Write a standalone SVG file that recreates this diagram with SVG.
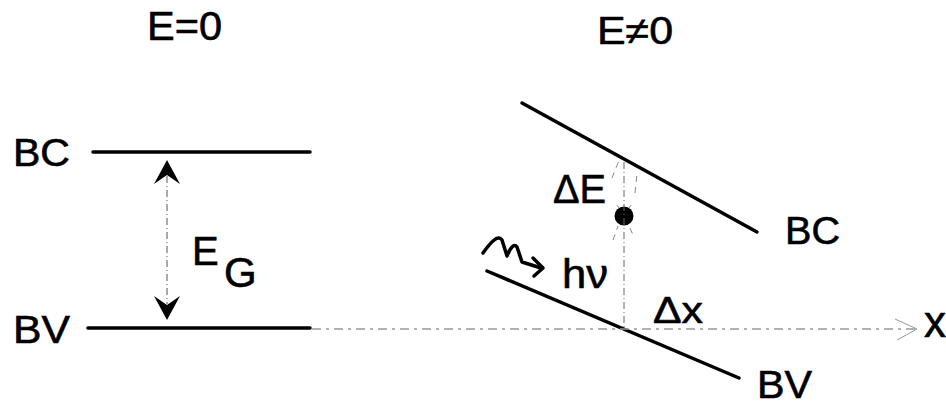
<svg xmlns="http://www.w3.org/2000/svg" width="946" height="405" viewBox="0 0 946 405">
<style>
text{font-family:"Liberation Sans",Arial,sans-serif;fill:#000;stroke:#000;stroke-width:0.6}
.band{stroke:#000;stroke-width:3.5;stroke-linecap:round;fill:none}
.faint{stroke:#888;stroke-width:1;fill:none;stroke-dasharray:6 5}
.lab{font-size:38px}
</style>
<rect width="946" height="405" fill="#fff"/>
<g id="title-left"><text x="147" y="40" font-size="40" textLength="75" lengthAdjust="spacingAndGlyphs">E=0</text></g>
<g id="title-right"><text x="597" y="44" font-size="38" textLength="76" lengthAdjust="spacingAndGlyphs">E≠0</text></g>
<g id="bc-left">
<line class="band" x1="93" y1="152" x2="310" y2="152"/>
<text class="lab" x="13" y="166" textLength="57" lengthAdjust="spacingAndGlyphs">BC</text>
</g>
<g id="bv-left">
<line class="band" x1="88" y1="328" x2="310" y2="328"/>
<text class="lab" x="13" y="343" textLength="57" lengthAdjust="spacingAndGlyphs">BV</text>
</g>
<g id="eg">
<text x="192" y="265" font-size="40">E</text>
<text x="224" y="287" font-size="42">G</text>
</g>
<g id="bc-right">
<line class="band" x1="522" y1="103" x2="757" y2="232"/>
<text class="lab" x="785" y="244" textLength="55" lengthAdjust="spacingAndGlyphs">BC</text>
</g>
<g id="bv-right">
<line class="band" x1="487" y1="271" x2="739" y2="378"/>
<text class="lab" x="757" y="398" textLength="55" lengthAdjust="spacingAndGlyphs">BV</text>
</g>
<g id="electron">
<circle cx="624" cy="216" r="9.5" fill="#000"/>
<text x="553" y="203" font-size="40" textLength="53" lengthAdjust="spacingAndGlyphs">ΔE</text>
</g>
<g id="photon">
<text x="562" y="288" font-size="40" textLength="46" lengthAdjust="spacingAndGlyphs">hν</text>
</g>
<g id="dx"><text x="653" y="323" font-size="36" textLength="50" lengthAdjust="spacingAndGlyphs">Δx</text></g>
<g id="x-label"><text x="924" y="337" font-size="44">x</text></g>
<g id="connectors">
<line x1="167" y1="176" x2="167" y2="304" stroke="#555" stroke-width="1" stroke-dasharray="7 3 1 3"/>
<path d="M167,160 L180,184 L167,175 L154,184 Z" fill="#000"/>
<path d="M167,320 L180,296 L167,305 L154,296 Z" fill="#000"/>
<line x1="312" y1="329" x2="915" y2="329" stroke="#999" stroke-width="1.3" stroke-dasharray="9 5 3 5"/>
<path d="M895,319 L917,329 L897,340" stroke="#999" stroke-width="1" fill="none"/>
<line x1="624" y1="162" x2="624" y2="328" stroke="#666" stroke-width="1" stroke-dasharray="7 3 1 3"/>
<line class="faint" x1="612" y1="178" x2="620" y2="158"/>
<line class="faint" x1="635" y1="193" x2="637" y2="173"/>
<line class="faint" x1="613" y1="240" x2="618" y2="226"/>
<line class="faint" x1="630" y1="228" x2="633" y2="235"/>
<line class="faint" x1="617" y1="205" x2="619" y2="208"/>
<line class="faint" x1="631" y1="205" x2="629" y2="208"/>
<path d="M483,253 C490,243 498,234 502,240 L507,256 C510,248 514,243 517,247 L522,262 L541,268" stroke="#000" stroke-width="3.5" fill="none" stroke-linejoin="round" stroke-linecap="round"/>
<path d="M533,258 L543,268 L534,276" stroke="#000" stroke-width="3.5" fill="none" stroke-linejoin="round" stroke-linecap="round"/>
</g>
</svg>
